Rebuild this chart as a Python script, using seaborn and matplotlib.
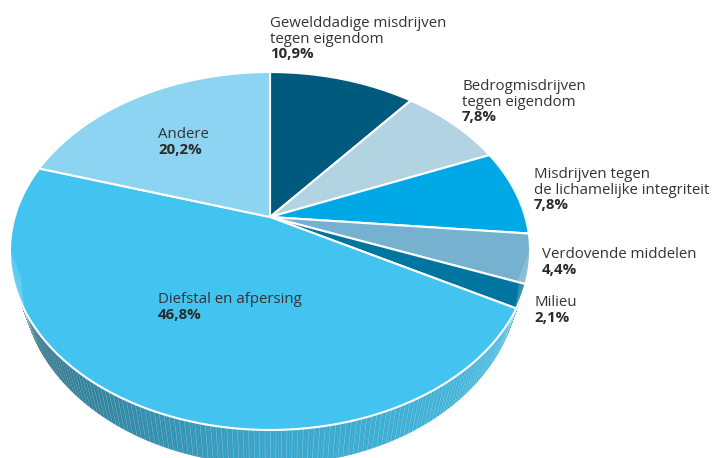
import numpy as np
import matplotlib.pyplot as plt
from matplotlib.patches import Polygon
import seaborn as sns

# data
categories = ["Gewelddadige misdrijven\ntegen eigendom",
              "Bedrogmisdrijven\ntegen eigendom",
              "Misdrijven tegen\nde lichamelijke integriteit",
              "Verdovende middelen",
              "Milieu",
              "Diefstal en afpersing",
              "Andere"]
shares = [10.9, 7.8, 7.8, 4.4, 2.1, 46.8, 20.2]
pct_labels = ["10,9%", "7,8%", "7,8%", "4,4%", "2,1%", "46,8%", "20,2%"]
colors = ["#005a7e", "#b2d3e2", "#00a9e6", "#76b2d0", "#0075a0", "#43c3ef", "#8dd4f3"]

# label anchors (x, baseline of first line) in pixels
label_pos = [(270, 27), (462, 90), (534, 178), (542, 258), (534, 306), (158, 303), (158, 138)]

sns.set_theme(style="white")
plt.rcParams['font.family'] = ['Open Sans', 'DejaVu Sans']
palette = sns.color_palette(colors)

# tilted disc seen in perspective
CX, CY = 270, 217
A, B, K = 255.3, 172.5, 0.19
DEPTH = 28
SHRINK = 0.955


def top(t):
    u, v = np.sin(t), np.cos(t)
    w = 1 + K * v
    return CX + A * u / w, CY - B * v / w


def bottom(t):
    x, y = top(t)
    w = 1 + K * np.cos(t)
    return CX + (x - CX) * SHRINK, y + DEPTH / w


def shade(t):
    # lighter on the right, darker to the left
    d = np.degrees(t)
    return np.interp(d, [100, 180, 260], [0.97, 0.85, 0.42])


fig = plt.figure(figsize=(7.14, 4.58), dpi=100)
ax = fig.add_axes([0, 0, 1, 1])
ax.set_xlim(0, 714)
ax.set_ylim(458, 0)
ax.axis('off')

bounds = np.radians(np.concatenate([[0], np.cumsum(shares) / sum(shares) * 360]))
vis0, vis1 = np.arccos(-K), 2 * np.pi - np.arccos(-K)

# side walls
for i, col in enumerate(palette):
    a0, a1 = max(bounds[i], vis0), min(bounds[i + 1], vis1)
    if a1 <= a0:
        continue
    ts = np.linspace(a0, a1, max(2, int(np.degrees(a1 - a0) * 2) + 1))
    for t0, t1 in zip(ts[:-1], ts[1:]):
        x0, y0 = top(t0)
        x1, y1 = top(t1)
        x2, y2 = bottom(t1)
        x3, y3 = bottom(t0)
        f = shade((t0 + t1) / 2)
        c = tuple(np.clip(np.array(col) * f, 0, 1))
        ax.add_patch(Polygon([(x0, y0), (x1, y1), (x2, y2), (x3, y3)],
                             closed=True, facecolor=c, edgecolor=c, lw=0.3))
    for t in ts[::2]:
        xa, ya = top(t)
        xb, yb = bottom(t)
        ax.plot([xa, xb], [ya, yb], color='white', lw=0.5, alpha=0.25)

# top faces
for i, col in enumerate(palette):
    ts = np.linspace(bounds[i], bounds[i + 1], 200)
    xs, ys = top(ts)
    pts = [(CX, CY)] + list(zip(xs, ys))
    ax.add_patch(Polygon(pts, closed=True, facecolor=col, edgecolor='white', lw=1.5,
                         joinstyle='round'))

# labels
step = 15.7
for name, pct, (lx, ly) in zip(categories, pct_labels, label_pos):
    lines = name.split("\n")
    for j, line in enumerate(lines):
        ax.text(lx, ly + j * step, line, fontsize=10.8, color='#333333',
                ha='left', va='baseline')
    ax.text(lx, ly + len(lines) * step, pct, fontsize=10.8, color='#2a2a2a',
            fontweight='bold', ha='left', va='baseline')

fig.savefig("out.png", dpi=100)
